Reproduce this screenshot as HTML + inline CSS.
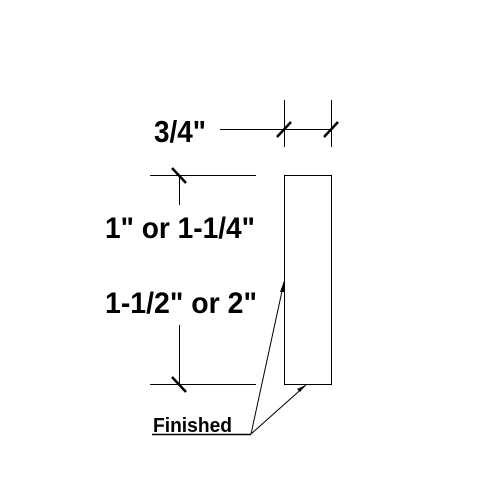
<!DOCTYPE html>
<html><head><style>html,body{margin:0;padding:0;background:#fff}svg{display:block}</style></head>
<body>
<svg width="484" height="484" viewBox="0 0 484 484" font-family="Liberation Sans, Arial, sans-serif">
<rect width="484" height="484" fill="#fff"/>
<g stroke="#000" stroke-width="1" fill="none">
<rect x="284.5" y="175.5" width="47" height="209"/>
<line x1="220" y1="129.5" x2="331" y2="129.5"/>
<line x1="284.5" y1="100" x2="284.5" y2="147"/>
<line x1="331.5" y1="100" x2="331.5" y2="147"/>
<line x1="150" y1="175.5" x2="256" y2="175.5"/>
<line x1="150" y1="384.5" x2="256" y2="384.5"/>
<line x1="179.5" y1="175" x2="179.5" y2="205"/>
<line x1="179.5" y1="325" x2="179.5" y2="384"/>
<line x1="251" y1="434" x2="284" y2="282"/>
<line x1="251" y1="434" x2="306" y2="385"/>
</g>
<g stroke="#000" stroke-width="2.5">
<line x1="277" y1="137" x2="291" y2="122"/>
<line x1="324" y1="137" x2="338" y2="122"/>
<line x1="172" y1="168" x2="186" y2="183"/>
<line x1="172" y1="377" x2="186" y2="392"/>
</g>
<polygon points="284,281 280,292 285,292" fill="#000"/>
<polygon points="306,385 297,389 300,392" fill="#000"/>
<g fill="#000" font-weight="bold">
<text x="154" y="142" font-size="31" textLength="52" lengthAdjust="spacingAndGlyphs">3/4"</text>
<text x="105" y="238" font-size="30" textLength="150" lengthAdjust="spacingAndGlyphs">1" or 1-1/4"</text>
<text x="105" y="313" font-size="30" textLength="152" lengthAdjust="spacingAndGlyphs">1-1/2" or 2"</text>
<text x="153" y="432" font-size="20" textLength="79" lengthAdjust="spacingAndGlyphs">Finished</text>
</g>
<line x1="152" y1="434.5" x2="251" y2="434.5" stroke="#000" stroke-width="1.5"/>
</svg>
</body></html>
